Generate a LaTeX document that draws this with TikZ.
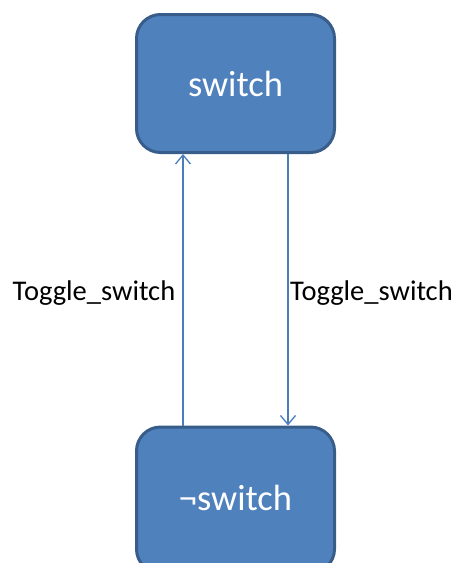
\documentclass[tikz,border=0pt]{standalone}
\usepackage{fontspec}
\setmainfont{Carlito}
\usetikzlibrary{arrows.meta}
\definecolor{boxfill}{HTML}{4F81BD}
\definecolor{boxline}{HTML}{385D8A}
\definecolor{linkline}{HTML}{4A7EBB}
\tikzset{
  statebox/.style={draw=boxline, fill=boxfill, line width=3pt, rounded corners=24pt,
    minimum width=198pt, minimum height=138pt, text=white,
    font=\fontsize{36.5}{40}\selectfont},
  link/.style={draw=linkline, line width=1.5pt, -{Straight Barb[length=9pt,width=15pt,line width=1.3pt]}},
  linklabel/.style={font=\fontsize{28.5}{32}\selectfont, text=black, inner sep=0pt}
}
\begin{document}
\begin{tikzpicture}[x=1pt,y=1pt]
  \useasboundingbox (0,0) rectangle (458,-563);
  \node[statebox] (on) at (235.5,-83.5) {switch};
  % the lower state runs past the bottom edge of the page
  \node[statebox, minimum height=146pt] (off) at (235.5,-500) {\raisebox{3.5pt}{¬switch}};
  \draw[link] ([xshift=-52.5pt]off.north) -- ([xshift=-52.5pt]on.south);
  \draw[link] ([xshift=52.5pt]on.south) -- ([xshift=52.5pt]off.north);
  \node[linklabel] (tl) at (94,-293) {Toggle\_switch};
  \node[linklabel] (tr) at (371.5,-293) {Toggle\_switch};
\end{tikzpicture}
\end{document}
